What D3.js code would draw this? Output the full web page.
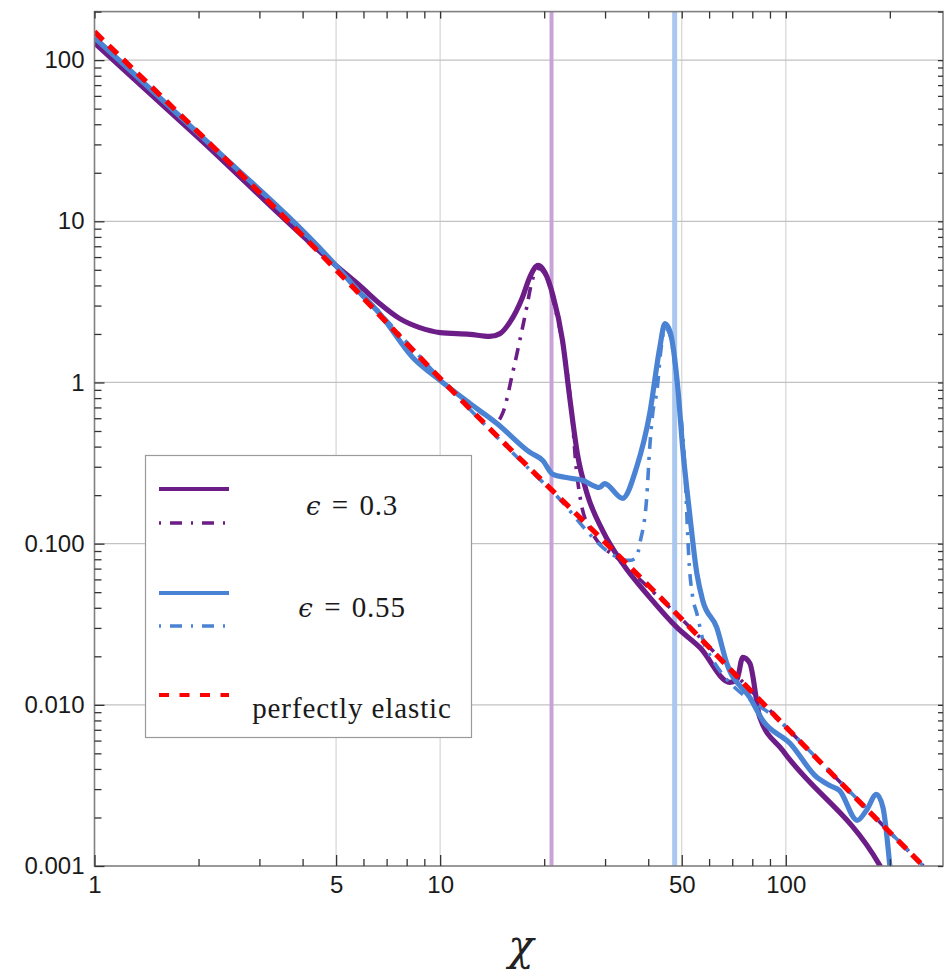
<!DOCTYPE html>
<html>
<head>
<meta charset="utf-8">
<script src="https://cdn.jsdelivr.net/npm/d3@7"></script>
<style>
  body { margin: 0; background: #fff; }
  svg { display: block; }
</style>
</head>
<body>
<div id="wrapper"></div>
<script>
// tick values and labels
const xMajorTicks = [1, 5, 10, 50, 100];
const xMinorTicks = [2, 3, 4, 6, 7, 8, 9, 20, 30, 40, 60, 70, 80, 90, 200];
const yMajorTicks = [0.001, 0.01, 0.1, 1, 10, 100];
const yTickLabels = ["0.001", "0.010", "0.100", "1", "10", "100"];
const gridX = [5, 10, 50, 100];
const gridY = [0.01, 0.1, 1, 10, 100];
const resonanceX = [21, 47.7];

// curves [chi, value]
const eps03Solid = [
  [1, 128], [2, 33], [5, 5.3], [5.85, 4.0], [6.68, 3.09], [7.64, 2.49], [8.73, 2.19],
  [10, 2.04], [12.2, 1.99], [13.9, 1.93], [14.9, 2.01], [15.9, 2.36], [17.3, 3.37],
  [18.2, 4.54], [19.2, 5.32], [20.1, 4.81], [21.2, 3.47], [22.6, 1.82], [23.7, 0.81],
  [25.0, 0.352], [26.6, 0.205], [29.5, 0.121], [33.7, 0.0754], [40.4, 0.0464],
  [48.4, 0.0302], [56.4, 0.0227], [68.9, 0.0138], [72.1, 0.0142], [75.1, 0.0197],
  [78.7, 0.0181], [84.1, 0.00835], [98, 0.00521], [187, 0.00101], [200, 0.00078]
];
const eps03DashDot = [
  [1, 128], [2, 33], [5, 5.3], [6.68, 2.68], [8.33, 1.43], [10, 1.03], [12.2, 0.741],
  [13.9, 0.6], [14.6, 0.573], [15.2, 0.652], [16.2, 1.14], [17.0, 1.82], [17.8, 2.92],
  [18.4, 4.17], [19.2, 5.1], [20.2, 4.61], [21.4, 3.0], [22.8, 1.58], [24.0, 0.67],
  [24.8, 0.284], [25.5, 0.185], [27.1, 0.124], [33.7, 0.0764], [50, 0.034],
  [100, 0.0073], [250, 0.001]
];
const eps055Solid = [
  [1, 138], [2, 35], [5, 5.3], [5.85, 3.62], [6.68, 2.68], [8.33, 1.43], [10, 1.03],
  [12.2, 0.741], [14.6, 0.557], [18.2, 0.368], [19.8, 0.328], [21.2, 0.269],
  [23.2, 0.257], [25.8, 0.247], [28.9, 0.223], [29.9, 0.236], [33.7, 0.191],
  [37.0, 0.297], [40.4, 0.642], [43.2, 1.65], [44.7, 2.32], [46.3, 2.05], [48.7, 0.93],
  [50.3, 0.395], [52.7, 0.154], [55.3, 0.0653], [57.5, 0.0444], [63.1, 0.0302],
  [67.5, 0.0181], [78.7, 0.0111], [85.8, 0.0080], [102.8, 0.00577], [123, 0.00355],
  [134, 0.00316], [143, 0.00294], [161, 0.00192], [171, 0.00221], [183, 0.00278],
  [191, 0.00231], [200, 0.001], [203, 0.0007]
];
const eps055DashDot = [
  [1, 138], [2, 35], [5, 5.3], [10, 1.06], [20.7, 0.22], [35.3, 0.0787], [37.0, 0.082],
  [37.8, 0.100], [39.6, 0.194], [40.4, 0.395], [41.2, 0.642], [42.4, 0.89], [43.5, 1.58],
  [44.7, 2.19], [46.3, 1.95], [48.7, 0.89], [50.7, 0.379], [52.7, 0.0682],
  [53.8, 0.0464], [55.3, 0.0369], [58.3, 0.0233], [100, 0.0073], [250, 0.001]
];
const elastic = [
  [1, 150], [5, 5.0], [10, 1.06], [50, 0.034], [100, 0.0073], [250, 0.001]
];

// legend: [symbol, rest]
const legendLabels = [["\u03f5", "\u2004=\u20040.3"], ["\u03f5", "\u2004=\u20040.55"], ["", "perfectly elastic"]];

const purple = "#6c1d87";
const blue = "#4a83d3";
const red = "#ff0000";

function drawChart() {
  let dimensions = {
    width: 946,
    height: 972,
    margin: { top: 11.6, right: 3, bottom: 106, left: 94.5 },
  }
  dimensions.boundedWidth = dimensions.width - dimensions.margin.left - dimensions.margin.right
  dimensions.boundedHeight = dimensions.height - dimensions.margin.top - dimensions.margin.bottom

  const wrapper = d3.select("#wrapper")
    .append("svg")
    .attr("width", dimensions.width)
    .attr("height", dimensions.height)

  const bounds = wrapper.append("g")
    .attr("transform", `translate(${dimensions.margin.left},${dimensions.margin.top})`)

  const xScale = d3.scaleLog()
    .domain([1, 285])
    .range([0, dimensions.boundedWidth])

  const yScale = d3.scaleLog()
    .domain([0.001, 200])
    .range([dimensions.boundedHeight, 0])

  bounds.append("defs").append("clipPath")
    .attr("id", "plot-clip")
    .append("rect")
    .attr("width", dimensions.boundedWidth)
    .attr("height", dimensions.boundedHeight)

  // grid
  bounds.append("g").selectAll("line")
    .data(gridX).join("line")
    .attr("x1", d => xScale(d)).attr("x2", d => xScale(d))
    .attr("y1", 0).attr("y2", dimensions.boundedHeight)
    .attr("stroke", "#d8d8d8").attr("stroke-width", 1.3)

  bounds.append("g").selectAll("line")
    .data(gridY).join("line")
    .attr("y1", d => yScale(d)).attr("y2", d => yScale(d))
    .attr("x1", 0).attr("x2", dimensions.boundedWidth)
    .attr("stroke", "#c2c2c2").attr("stroke-width", 1.3)

  // resonance markers
  bounds.append("g").selectAll("line")
    .data(resonanceX).join("line")
    .attr("x1", d => xScale(d)).attr("x2", d => xScale(d))
    .attr("y1", 0).attr("y2", dimensions.boundedHeight)
    .attr("stroke", (d, i) => i === 0 ? "#c9a3d8" : "#a9c7ef")
    .attr("stroke-width", (d, i) => i === 0 ? 4 : 5)

  const lineGenerator = d3.line()
    .x(d => xScale(d[0]))
    .y(d => yScale(d[1]))
    .curve(d3.curveMonotoneX)

  const plot = bounds.append("g").attr("clip-path", "url(#plot-clip)")

  const series = [
    { data: eps03Solid, color: purple, width: 5.2, dash: null },
    { data: eps03DashDot, color: purple, width: 3.6, dash: "12,8,3,8" },
    { data: eps055Solid, color: blue, width: 5.2, dash: null },
    { data: eps055DashDot, color: blue, width: 3.6, dash: "12,8,3,8" },
    { data: elastic, color: red, width: 5.2, dash: "12,8" },
  ]

  series.forEach(s => {
    plot.append("path")
      .attr("d", lineGenerator(s.data))
      .attr("fill", "none")
      .attr("stroke", s.color)
      .attr("stroke-width", s.width)
      .attr("stroke-linejoin", "round")
      .attr("stroke-dasharray", s.dash)
  })

  // frame
  bounds.append("rect")
    .attr("width", dimensions.boundedWidth)
    .attr("height", dimensions.boundedHeight)
    .attr("fill", "none")
    .attr("stroke", "#808080")
    .attr("stroke-width", 1.6)

  const styleAxis = g => {
    g.select(".domain").remove()
    g.selectAll(".tick line").attr("stroke", "#333").attr("stroke-width", 1.3)
    g.selectAll(".tick text")
      .attr("fill", "#1a1a1a")
      .style("font-family", "'Liberation Sans', Arial, sans-serif")
      .style("font-size", "24px")
  }

  // bottom axis
  bounds.append("g")
    .attr("transform", `translate(0,${dimensions.boundedHeight})`)
    .call(d3.axisBottom(xScale).tickValues(xMajorTicks).tickSizeInner(-11).tickSizeOuter(0)
      .tickPadding(10).tickFormat(d3.format("d")))
    .call(styleAxis)
  bounds.append("g")
    .attr("transform", `translate(0,${dimensions.boundedHeight})`)
    .call(d3.axisBottom(xScale).tickValues(xMinorTicks).tickSizeInner(-7).tickSizeOuter(0).tickFormat(""))
    .call(styleAxis)

  // top axis (ticks only)
  bounds.append("g")
    .call(d3.axisTop(xScale).tickValues(xMajorTicks.concat(xMinorTicks)).tickSizeInner(-7)
      .tickSizeOuter(0).tickFormat(""))
    .call(styleAxis)

  // left axis
  const yMinorTicks = []
  yMajorTicks.forEach(decade => {
    for (let k = 2; k <= 9; k++) {
      if (decade * k <= 200) yMinorTicks.push(decade * k)
    }
  })

  bounds.append("g")
    .call(d3.axisLeft(yScale).tickValues(yMajorTicks).tickSizeInner(-10).tickSizeOuter(0)
      .tickPadding(10).tickFormat((d, i) => yTickLabels[i]))
    .call(styleAxis)
  bounds.append("g")
    .call(d3.axisLeft(yScale).tickValues(yMinorTicks).tickSizeInner(-7).tickSizeOuter(0).tickFormat(""))
    .call(styleAxis)

  // right axis (ticks only)
  bounds.append("g")
    .attr("transform", `translate(${dimensions.boundedWidth},0)`)
    .call(d3.axisRight(yScale).tickValues(yMajorTicks.concat(yMinorTicks)).tickSizeInner(-5)
      .tickSizeOuter(0).tickFormat(""))
    .call(styleAxis)

  // x label
  wrapper.append("text")
    .attr("x", 521)
    .attr("y", 960)
    .attr("text-anchor", "middle")
    .style("font-family", "'DejaVu Serif', 'Liberation Serif', serif")
    .style("font-style", "italic")
    .style("font-size", "42px")
    .attr("fill", "#222")
    .text("\u03c7")

  // legend
  const legend = wrapper.append("g")
  legend.append("rect")
    .attr("x", 145.5).attr("y", 455.5)
    .attr("width", 326).attr("height", 282)
    .attr("fill", "#fff")
    .attr("stroke", "#9a9a9a")
    .attr("stroke-width", 1.2)

  const legendSamples = [
    { y: 489, color: purple, width: 4.2, dash: null },
    { y: 523, color: purple, width: 3.6, dash: "2,9,12,9" },
    { y: 593, color: blue, width: 4.2, dash: null },
    { y: 626, color: blue, width: 3.6, dash: "2,9,12,9" },
    { y: 695, color: red, width: 4.2, dash: "10,10.5" },
  ]
  legend.selectAll(".sample")
    .data(legendSamples).join("line")
    .attr("class", "sample")
    .attr("x1", 159).attr("x2", 229)
    .attr("y1", d => d.y).attr("y2", d => d.y)
    .attr("stroke", d => d.color)
    .attr("stroke-width", d => d.width)
    .attr("stroke-dasharray", d => d.dash)

  const legendTextY = [515, 617, 718]
  const labels = legend.selectAll(".label")
    .data(legendLabels).join("text")
    .attr("class", "label")
    .attr("x", 352)
    .attr("y", (d, i) => legendTextY[i])
    .attr("text-anchor", "middle")
    .style("font-family", "'Liberation Serif', 'Times New Roman', serif")
    .style("font-size", "29px")
    .style("letter-spacing", (d, i) => i === 2 ? "0.9px" : "0.8px")
    .attr("fill", "#1a1a1a")

  labels.append("tspan")
    .style("font-style", "italic")
    .style("font-family", "'DejaVu Serif', 'Liberation Serif', serif")
    .style("font-size", "26px")
    .text(d => d[0])
  labels.append("tspan")
    .text(d => d[1])
}

drawChart()
</script>
</body>
</html>
